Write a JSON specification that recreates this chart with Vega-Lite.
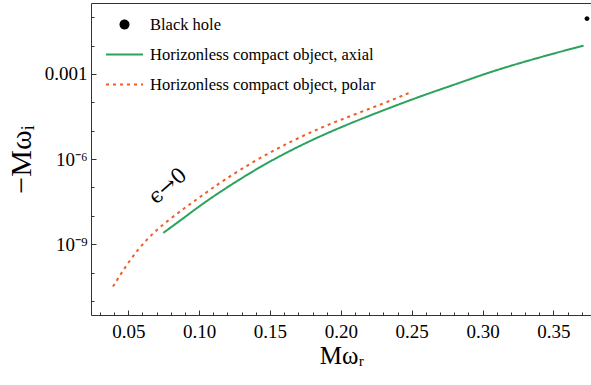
{
  "$schema": "https://vega.github.io/schema/vega-lite/v6.json",
  "width": 501,
  "height": 312,
  "autosize": {"type": "none"},
  "padding": {"left": 91, "top": 3, "right": 0, "bottom": 70},
  "background": "white",
  "config": {
    "view": {"stroke": "#333", "strokeWidth": 1},
    "font": "Liberation Serif",
    "axis": {"grid": false, "domain": false, "tickColor": "#333", "labelColor": "black", "titleColor": "black", "labelFont": "Liberation Serif", "titleFont": "Liberation Serif", "titleFontWeight": "normal", "labelOverlap": false, "labelFlush": false, "labelBound": false},
    "legend": {"symbolSize": 1369, "symbolStrokeWidth": 2, "labelFont": "Liberation Serif", "labelFontSize": 16.5, "labelColor": "black", "labelOffset": 6, "padding": 0, "rowPadding": 2, "labelLimit": 400}
  },
  "layer": [
    {
      "data": {"values": [
        {"x": 0.0747, "y": 2.51e-9, "series": "Horizonless compact object, axial"},
        {"x": 0.0888, "y": 8.13e-9, "series": "Horizonless compact object, axial"},
        {"x": 0.1006, "y": 2.29e-8, "series": "Horizonless compact object, axial"},
        {"x": 0.1170, "y": 8.32e-8, "series": "Horizonless compact object, axial"},
        {"x": 0.1406, "y": 4.57e-7, "series": "Horizonless compact object, axial"},
        {"x": 0.1641, "y": 2.00e-6, "series": "Horizonless compact object, axial"},
        {"x": 0.1876, "y": 7.24e-6, "series": "Horizonless compact object, axial"},
        {"x": 0.2112, "y": 2.26e-5, "series": "Horizonless compact object, axial"},
        {"x": 0.2347, "y": 6.46e-5, "series": "Horizonless compact object, axial"},
        {"x": 0.2582, "y": 1.78e-4, "series": "Horizonless compact object, axial"},
        {"x": 0.2818, "y": 4.47e-4, "series": "Horizonless compact object, axial"},
        {"x": 0.3042, "y": 1.12e-3, "series": "Horizonless compact object, axial"},
        {"x": 0.3266, "y": 2.45e-3, "series": "Horizonless compact object, axial"},
        {"x": 0.3501, "y": 5.25e-3, "series": "Horizonless compact object, axial"},
        {"x": 0.3713, "y": 9.91e-3, "series": "Horizonless compact object, axial"},
        {"x": 0.0392, "y": 3.24e-11, "series": "Horizonless compact object, polar"},
        {"x": 0.0514, "y": 3.02e-10, "series": "Horizonless compact object, polar"},
        {"x": 0.0632, "y": 1.55e-9, "series": "Horizonless compact object, polar"},
        {"x": 0.0749, "y": 5.25e-9, "series": "Horizonless compact object, polar"},
        {"x": 0.0890, "y": 1.78e-8, "series": "Horizonless compact object, polar"},
        {"x": 0.1008, "y": 4.68e-8, "series": "Horizonless compact object, polar"},
        {"x": 0.1170, "y": 1.78e-7, "series": "Horizonless compact object, polar"},
        {"x": 0.1406, "y": 9.55e-7, "series": "Horizonless compact object, polar"},
        {"x": 0.1641, "y": 4.07e-6, "series": "Horizonless compact object, polar"},
        {"x": 0.1876, "y": 1.41e-5, "series": "Horizonless compact object, polar"},
        {"x": 0.2112, "y": 3.98e-5, "series": "Horizonless compact object, polar"},
        {"x": 0.2347, "y": 1.12e-4, "series": "Horizonless compact object, polar"},
        {"x": 0.2480, "y": 2.14e-4, "series": "Horizonless compact object, polar"}
      ]},
      "mark": {"type": "line", "strokeWidth": 2, "interpolate": "basis", "clip": true},
      "encoding": {
        "x": {"field": "x", "type": "quantitative",
          "scale": {"domain": [0.02368, 0.37724], "nice": false, "zero": false},
          "axis": {
            "values": [0.03,0.04,0.05,0.06,0.07,0.08,0.09,0.10,0.11,0.12,0.13,0.14,0.15,0.16,0.17,0.18,0.19,0.20,0.21,0.22,0.23,0.24,0.25,0.26,0.27,0.28,0.29,0.30,0.31,0.32,0.33,0.34,0.35,0.36,0.37],
            "tickCount": 200,
            "labelExpr": "round(datum.value*100) % 5 == 0 ? format(datum.value, '.2f') : ''",
            "tickSize": {"condition": {"test": "round(datum.value*100) % 5 == 0", "value": -5}, "value": -3},
            "labelOverlap": false,
            "labelPadding": 12,
            "labelFontSize": 19,
            "labelFont": "Liberation Serif",
            "title": "Mωᵣ",
            "titleFontSize": 25,
            "titlePadding": 0
          }
        },
        "y": {"field": "y", "type": "quantitative",
          "scale": {"type": "log", "domain": [3.2e-12, 0.316], "nice": false, "zero": false},
          "axis": {
            "values": [0.1,0.01,0.001,0.0001,1e-5,1e-6,1e-7,1e-8,1e-9,1e-10,1e-11],
            "tickCount": 200,
            "labelExpr": "round(log(datum.value)/LN10) == -3 ? '0.001' : (round(log(datum.value)/LN10) == -6 ? '10⁻⁶' : (round(log(datum.value)/LN10) == -9 ? '10⁻⁹' : ''))",
            "tickSize": {"condition": {"test": "round(log(datum.value)/LN10) % 3 == 0", "value": -5}, "value": -3},
            "labelOverlap": false,
            "labelPadding": 9,
            "labelFontSize": 19,
            "labelFont": "Liberation Serif",
            "title": "−Mωᵢ",
            "titleFontSize": 30,
            "titlePadding": 8
          }
        },
        "color": {"field": "series", "type": "nominal",
          "scale": {"domain": ["Black hole", "Horizonless compact object, axial", "Horizonless compact object, polar"], "range": ["black", "#2ca25f", "#f25a26"]},
          "legend": {"title": null, "orient": "none", "legendX": 14, "legendY": 2, "labelFont": "Liberation Serif", "labelFontSize": 16.5}
        },
        "strokeDash": {"field": "series", "type": "nominal",
          "scale": {"domain": ["Black hole", "Horizonless compact object, axial", "Horizonless compact object, polar"], "range": [[1,0],[1,0],[3,4]]},
          "legend": {"title": null, "orient": "none", "legendX": 14, "legendY": 2, "labelFont": "Liberation Serif", "labelFontSize": 16.5}
        }
      }
    },
    {
      "data": {"values": [{"x": 0.3737, "y": 0.089, "series": "Black hole"}]},
      "mark": {"type": "point", "filled": true, "opacity": 1, "size": 493},
      "encoding": {
        "x": {"field": "x", "type": "quantitative"},
        "y": {"field": "y", "type": "quantitative"},
        "color": {"field": "series", "type": "nominal",
          "scale": {"domain": ["Black hole", "Horizonless compact object, axial", "Horizonless compact object, polar"], "range": ["black", "#2ca25f", "#f25a26"]},
          "legend": {"title": null, "orient": "none", "legendX": 14, "legendY": 2, "labelFont": "Liberation Serif", "labelFontSize": 16.5}
        },
        "shape": {"field": "series", "type": "nominal",
          "scale": {"domain": ["Black hole", "Horizonless compact object, axial", "Horizonless compact object, polar"], "range": ["M-0.216,0A0.216,0.216,0,1,0,0.216,0A0.216,0.216,0,1,0,-0.216,0Z", "stroke", "stroke"]},
          "legend": {"title": null, "orient": "none", "legendX": 14, "legendY": 2, "labelFont": "Liberation Serif", "labelFontSize": 16.5}
        }
      }
    },
    {
      "data": {"values": [{"x": 0.0782, "y": 1.08e-7, "label": "ϵ→0"}]},
      "mark": {"type": "text", "angle": -41, "fontSize": 21, "font": "DejaVu Serif", "align": "center", "baseline": "middle", "color": "black"},
      "encoding": {
        "x": {"field": "x", "type": "quantitative"},
        "y": {"field": "y", "type": "quantitative"},
        "text": {"field": "label"}
      }
    }
  ]
}
